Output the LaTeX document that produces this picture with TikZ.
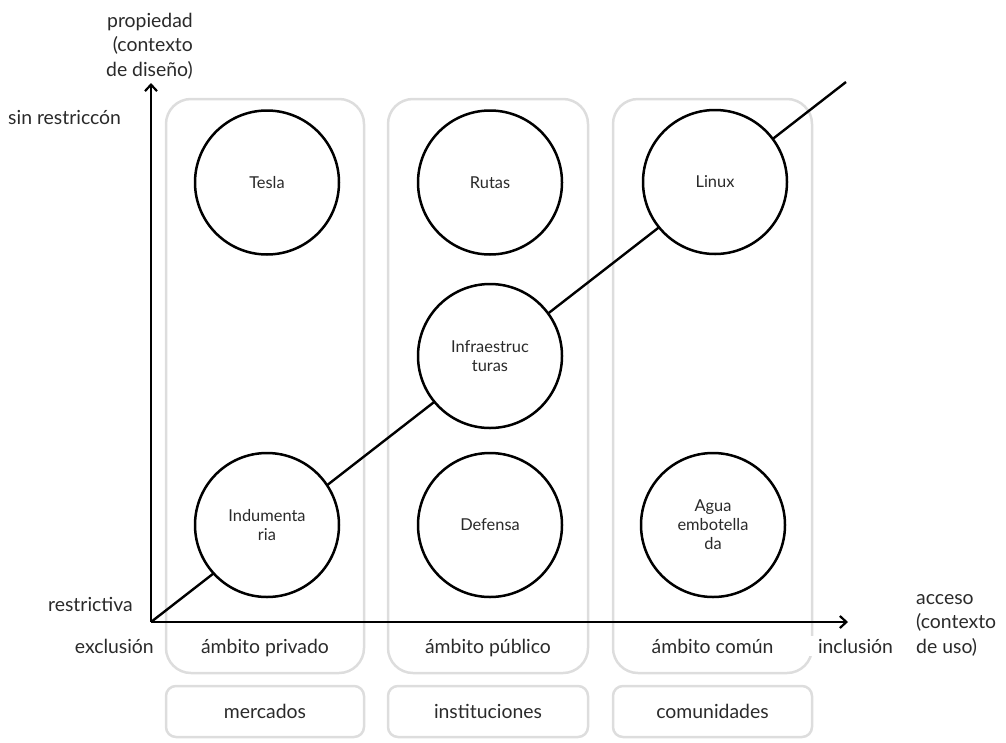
\documentclass[tikz,border=0pt]{standalone}
\usepackage{fontspec}
\setmainfont{Lato}
\usetikzlibrary{arrows.meta}
\definecolor{ink}{HTML}{2A2A2A}
\definecolor{frame}{HTML}{DDDDDD}
\tikzset{
  label/.style={text=ink, font=\fontsize{19.4}{24.5}\selectfont, inner sep=0pt},
  item/.style={circle, draw=black, line width=2.5pt, fill=white, minimum size=144pt,
    inner sep=0pt, align=center, text=ink, font=\fontsize{16.4}{19}\selectfont},
  realm/.style={draw=frame, line width=2.5pt, rounded corners=25pt},
  group/.style={draw=frame, line width=2.5pt, rounded corners=10pt, text=ink,
    font=\fontsize{19.4}{24.5}\selectfont},
  axis/.style={line width=2.2pt, -{Straight Barb[length=6.5pt,width=12pt,line width=2.2pt]}},
  trend/.style={line width=2.4pt}
}
\begin{document}
\begin{tikzpicture}[x=1pt,y=-1pt]
\useasboundingbox (0,0) rectangle (1006,742);

% realms (columns)
\draw[realm] (166,99) rectangle (364,673);
\draw[realm] (388,99) rectangle (588,673);
\draw[realm] (613,99) rectangle (812,673);

% groups under each realm
\node[group, minimum width=198pt, minimum height=51pt] (mer) at (265,711.5) {mercados};
\node[group, minimum width=200pt, minimum height=51pt] (ins) at (488,711.5) {instituciones};
\node[group, minimum width=199pt, minimum height=51pt] (com) at (712.5,711.5) {comunidades};

% trend line through the diagonal
\coordinate (o) at (151,622);
\coordinate (e) at (846,82);
\draw[trend] (o) -- (e);

% axes
\coordinate (ytop) at (151,83);
\coordinate (xend) at (848,622);
\draw[axis] (o) -- (ytop);
\draw[axis] (o) -- (xend);

% items
\node[item] (tes) at (267,182.5) {Tesla};
\node[item] (rut) at (490,182.5) {Rutas};
\node[item] (lin) at (715,182) {Linux};
\node[item] (inf) at (490,356) {Infraestruc\\turas};
\node[item] (ind) at (267,525) {Indumenta\\ria};
\node[item] (def) at (490,525) {Defensa};
\node[item] (agu) at (713,525) {Agua\\embotella\\da};

% axis labels (multi-line nodes sit on the baseline of their last line)
\node[label, anchor=base east, align=right] (prop) at (193,76) {propiedad\\(contexto\\de diseño)};
\node[label, anchor=base west] (sinr) at (8,124) {sin restriccón};
\node[label, anchor=base east] (rest) at (133,611) {restrictiva};
\node[label, anchor=base east] (excl) at (154,653) {exclusión};
\node[label, anchor=base west, fill=white, inner xsep=11pt, inner ysep=3pt, outer sep=0pt] (incl) at (807,653) {inclusión};
\node[label, anchor=base west, align=left] (acc) at (916,653) {acceso\\(contexto\\de uso)};

% realm names
\node[label, anchor=base] (priv) at (265,653) {ámbito privado};
\node[label, anchor=base] (publ) at (488,653) {ámbito público};
\node[label, anchor=base] (comu) at (712.5,653) {ámbito común};
\end{tikzpicture}
\end{document}
